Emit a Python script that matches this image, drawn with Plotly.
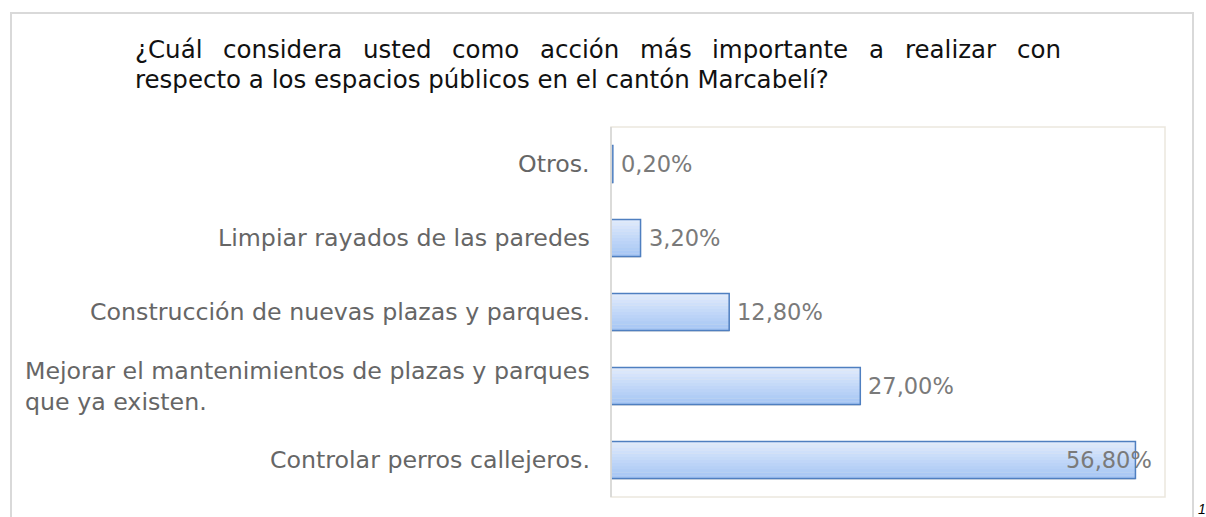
import plotly.graph_objects as go

# datos (de abajo hacia arriba)
categorias = ['Controlar perros callejeros.',
              'Mejorar el mantenimientos de plazas y parques<br>que ya existen.',
              'Construcción de nuevas plazas y parques.',
              'Limpiar rayados de las paredes',
              'Otros.']
valores = [56.8, 27.0, 12.8, 3.2, 0.2]
etiquetas = ['56,80%', '27,00%', '12,80%', '3,20%', '0,20%']

titulo_l1 = ['¿Cuál', 'considera', 'usted', 'como', 'acción', 'más',
             'importante', 'a', 'realizar', 'con']
titulo_l2 = 'respecto a los espacios públicos en el cantón Marcabelí?'

# geometria en pixeles
W, H = 1206, 517
L, R, T, B = 611, 1165, 127, 497
def px(x):
    return (x - L) / (R - L)
def py(y):
    return (B - y) / (B - T)

FONT = 'DejaVu Sans'
TSIZE = 24.5

# anchos aproximados de DejaVu Sans (por 1000 em) para justificar el titulo
anchos = {'¿': 531, 'C': 698, 'u': 634, 'á': 613, 'l': 278, 'c': 550, 'o': 612,
          'n': 634, 's': 521, 'i': 278, 'd': 635, 'e': 615, 'r': 411, 'a': 613,
          't': 392, 'm': 974, 'ó': 612, 'p': 635, 'z': 525}
def ancho(w):
    return sum(anchos.get(ch, 600) for ch in w) * TSIZE / 1000

fig = go.Figure()
ys = list(range(len(categorias)))

# sombra
fig.add_trace(go.Bar(x=valores, y=ys, orientation='h', width=0.5, offset=-0.27,
                     marker=dict(color='rgba(0,0,0,0.10)', line=dict(width=0)),
                     hoverinfo='skip'))
# degradado en franjas
n = 12
top = (223, 234, 252)
bot = (166, 198, 244)
for i in range(n):
    t = i / (n - 1)
    c = tuple(round(bot[k] + (top[k] - bot[k]) * t) for k in range(3))
    fig.add_trace(go.Bar(x=valores, y=ys, orientation='h', width=0.5 / n + 0.002,
                         offset=-0.25 + i * 0.5 / n,
                         marker=dict(color='rgb(%d,%d,%d)' % c, line=dict(width=0)),
                         hoverinfo='skip'))
# contorno
fig.add_trace(go.Bar(x=valores, y=ys, orientation='h', width=0.5, offset=-0.25,
                     marker=dict(color='rgba(0,0,0,0)', line=dict(color='#4f7fc0', width=1.5)),
                     hoverinfo='skip'))

ann = []
for i, (c, v, e) in enumerate(zip(categorias, valores, etiquetas)):
    ann.append(dict(x=px(592), xref='paper', y=i, yref='y', text=c, showarrow=False,
                    xanchor='right', align='left',
                    font=dict(family=FONT, size=23.7, color='#666666')))
    if v > 50:
        ann.append(dict(x=v, xref='x', y=i, yref='y', text=e, showarrow=False,
                        xanchor='right', xshift=19,
                        font=dict(family=FONT, size=22.5, color='#7a7a7a')))
    else:
        ann.append(dict(x=v, xref='x', y=i, yref='y', text=e, showarrow=False,
                        xanchor='left', xshift=6,
                        font=dict(family=FONT, size=22.5, color='#7a7a7a')))

# titulo justificado entre x=136 y x=1062
x_ini, x_fin = 136, 1062
total = sum(ancho(w) for w in titulo_l1)
hueco = (x_fin - x_ini - total) / (len(titulo_l1) - 1)
x0 = x_ini
for w in titulo_l1:
    ann.append(dict(x=px(x0), xref='paper', y=py(50), yref='paper', text=w,
                    showarrow=False, xanchor='left', yanchor='middle', xshift=-3,
                    font=dict(family=FONT, size=TSIZE, color='#111111')))
    x0 += ancho(w) + hueco
ann.append(dict(x=px(x_ini), xref='paper', y=py(79), yref='paper', text=titulo_l2,
                showarrow=False, xanchor='left', yanchor='middle', xshift=-3,
                font=dict(family=FONT, size=TSIZE, color='#111111')))
ann.append(dict(x=px(1196), xref='paper', y=py(509), yref='paper', text='<i>1</i>',
                showarrow=False, xanchor='left', yanchor='middle',
                font=dict(family='Liberation Sans', size=14, color='#000000')))

shapes = [
    dict(type='rect', xref='paper', yref='paper', x0=0, x1=1, y0=0, y1=1,
         line=dict(color='#ebe7de', width=1.5)),
    dict(type='line', xref='paper', yref='paper', x0=0, x1=0, y0=0, y1=1,
         line=dict(color='#d4d4d4', width=1.5)),
    dict(type='path', xref='paper', yref='paper',
         path='M %f %f L %f %f L %f %f L %f %f' % (px(11), py(520), px(11), py(13),
                                                   px(1193), py(13), px(1193), py(520)),
         line=dict(color='#d9d9d9', width=2)),
]

fig.update_layout(
    width=W, height=H, margin=dict(l=L, r=W - R, t=T, b=H - B),
    plot_bgcolor='white', paper_bgcolor='white', barmode='overlay',
    showlegend=False, annotations=ann, shapes=shapes,
    xaxis=dict(range=[0, 60], visible=False, fixedrange=True),
    yaxis=dict(range=[-0.5, 4.5], visible=False, fixedrange=True),
)
fig.write_html('out.html', config={'displayModeBar': False},
               post_script="document.body.style.margin='0';")
